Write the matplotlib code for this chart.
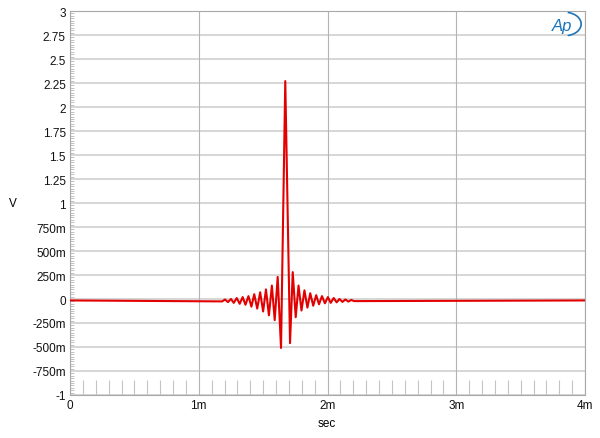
import numpy as np
import matplotlib
matplotlib.use("Agg")
import matplotlib.pyplot as plt
from matplotlib.patches import Arc

plt.rcParams['font.family'] = ['Liberation Sans', 'DejaVu Sans']

# impulse response, time in ms, level in V
baseline = -0.015
peak_time = 1.672
peak_value = 2.27

# extremes left of the peak, going outwards
left_times = [1.639, 1.613, 1.590, 1.568, 1.545, 1.522, 1.500, 1.477, 1.454, 1.431, 1.409,
              1.386, 1.363, 1.341, 1.318, 1.295, 1.272, 1.250, 1.227, 1.204, 1.182]
left_values = [-0.51, 0.23, -0.22, 0.14, -0.17, 0.10, -0.13, 0.07, -0.10, 0.05, -0.08,
               0.03, -0.06, 0.02, -0.05, 0.01, -0.04, 0.0, -0.032, -0.005, -0.025]

# extremes right of the peak, going outwards
right_times = [1.709, 1.730, 1.753, 1.775, 1.798, 1.821, 1.844, 1.866, 1.889, 1.912, 1.934, 1.957,
               1.980, 2.003, 2.025, 2.048, 2.071, 2.093, 2.116, 2.139, 2.162, 2.184, 2.207]
right_values = [-0.46, 0.28, -0.19, 0.14, -0.12, 0.09, -0.09, 0.06, -0.07, 0.04, -0.055, 0.03,
                -0.045, 0.02, -0.04, 0.01, -0.035, 0.0, -0.03, -0.005, -0.027, -0.01, -0.022]

x_ticks = [0, 1, 2, 3, 4]
x_labels = ['0', '1m', '2m', '3m', '4m']
y_ticks = [-1, -0.75, -0.5, -0.25, 0, 0.25, 0.5, 0.75, 1, 1.25, 1.5, 1.75, 2, 2.25, 2.5, 2.75, 3]
y_labels = ['-1', '-750m', '-500m', '-250m', '0', '250m', '500m', '750m', '1',
            '1.25', '1.5', '1.75', '2', '2.25', '2.5', '2.75', '3']

# assemble the trace: flat start, ringing, peak, ringing, flat end
t = [0.0] + left_times[::-1] + [peak_time] + right_times + [4.0]
v = [baseline] + left_values[::-1] + [peak_value] + right_values + [baseline]

fig = plt.figure(figsize=(6, 4.39), dpi=100)
ax = fig.add_axes([70/600, 1-396/439, 515/600, 384/439])

ax.set_xlim(0, 4)
ax.set_ylim(-1, 3)

for y in y_ticks:
    ax.axhline(y, color='#d6d6d6', lw=1.4, zorder=1)
for x in x_ticks:
    ax.axvline(x, color='#b4b4b4', lw=0.8, zorder=1)

ax.plot(t, v, color='#e30000', lw=1.5, zorder=3)

ax.set_xticks(x_ticks)
ax.set_xticklabels(x_labels)
ax.set_yticks(y_ticks)
ax.set_yticklabels(y_labels)
ax.set_xticks(np.arange(0.1, 4.0, 0.1), minor=True)
ax.set_yticks(np.arange(-1, 3.001, 0.025), minor=True)

ax.tick_params(axis='both', which='major', length=0, labelsize=8.5, pad=3, labelcolor='#111111')
ax.tick_params(axis='x', which='minor', direction='in', length=11, color='#c4c4c4', width=0.8)
ax.tick_params(axis='y', which='minor', direction='in', length=3, color='#b8b8b8', width=0.6)

for s in ax.spines.values():
    s.set_color('#a8a8a8')
    s.set_linewidth(0.8)

fig.text(13/600, 1-204/439, 'V', fontsize=8.5, ha='center', va='center')
fig.text(327/600, 1-424/439, 'sec', fontsize=8.5, ha='center', va='center')

# Ap logo
fig.text(562/600, 1-26/439, 'Ap', fontsize=12, style='italic', color='#1c74bb',
         ha='center', va='center')
logo_ax = fig.add_axes([548/600, 1-38/439, 34/600, 26/439])
logo_ax.axis('off')
logo_ax.set_xlim(0, 1)
logo_ax.set_ylim(0, 1)
logo_ax.add_patch(Arc((0.5, 0.5), 0.95, 0.9, theta1=-80, theta2=80, color='#1c74bb', lw=1.2))

fig.savefig('out.png', dpi=100)
